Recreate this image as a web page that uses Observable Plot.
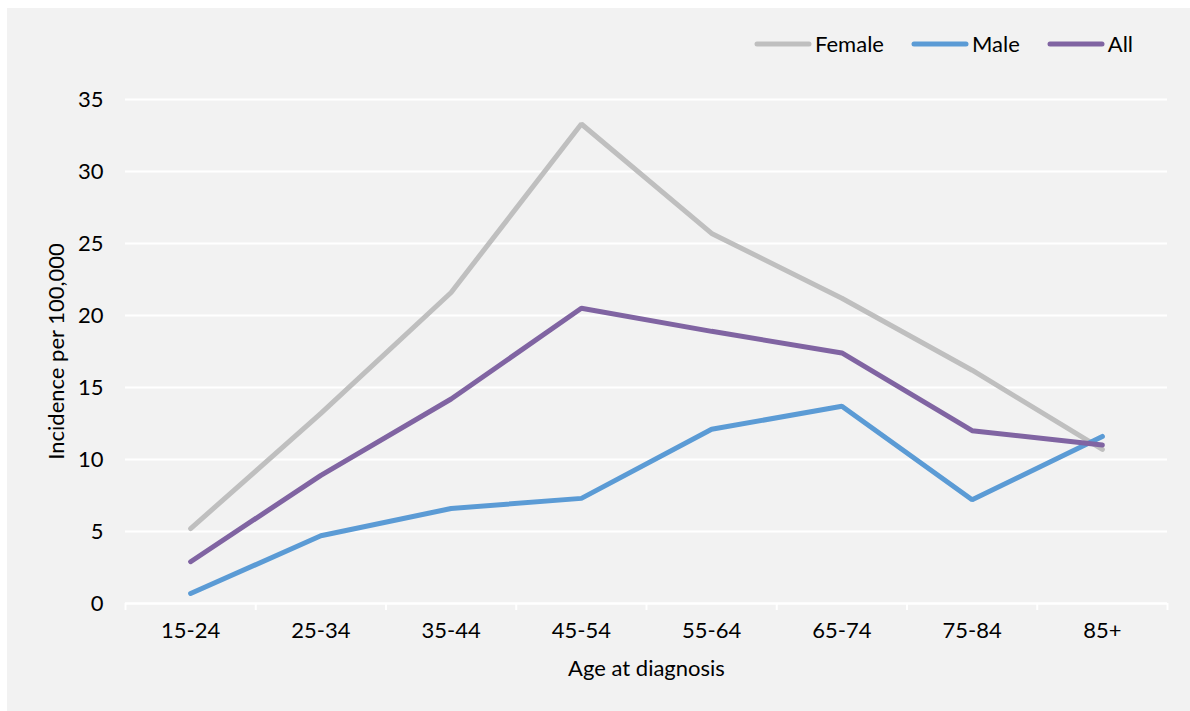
<!DOCTYPE html>
<html>
<head>
<meta charset="utf-8">
<script src="https://cdn.jsdelivr.net/npm/d3@7"></script>
<script src="https://cdn.jsdelivr.net/npm/@observablehq/plot@0.6"></script>
<style>
  html, body { margin: 0; padding: 0; background: #ffffff; }
  #frame { position: absolute; left: 7px; top: 8px; width: 1183px; height: 703px; background: #f2f2f2; font-family: Lato, "Open Sans", sans-serif; }
  #legend { position: absolute; top: 22px; left: 747px; display: flex; align-items: center; font-size: 22px; color: #000; }
  .item { display: flex; align-items: center; margin-right: 27px; }
  .item svg { margin-right: 3px; }
  #chart { position: absolute; left: 0; top: 62px; }
</style>
</head>
<body>
<div id="frame">
  <div id="legend"></div>
  <div id="chart"></div>
</div>
<script>
const categories = ["15-24", "25-34", "35-44", "45-54", "55-64", "65-74", "75-84", "85+"];
const female = [5.2, 13.2, 21.6, 33.3, 25.7, 21.2, 16.2, 10.7];
const male   = [0.7, 4.7, 6.6, 7.3, 12.1, 13.7, 7.2, 11.6];
const all    = [2.9, 8.9, 14.2, 20.5, 18.9, 17.4, 12.0, 11.0];
const seriesNames = ["Female", "Male", "All"];
const seriesColors = ["#bfbfbf", "#5b9bd5", "#8064a2"];
const yTicks = [0, 5, 10, 15, 20, 25, 30, 35];

const seriesValues = [female, male, all];
const data = seriesNames.flatMap((s, k) =>
  categories.map((c, i) => ({series: s, i, value: seriesValues[k][i]})));
const idx = categories.map((_, i) => i);
const edges = d3.range(categories.length + 1).map(i => i - 0.5);

// Legend
const legend = document.getElementById("legend");
seriesNames.forEach((s, k) => {
  const item = document.createElement("div");
  item.className = "item";
  if (k === seriesNames.length - 1) item.style.marginRight = "0";
  item.innerHTML = `<svg width="58" height="10"><line x1="3" y1="5" x2="55" y2="5" stroke="${seriesColors[k]}" stroke-width="5" stroke-linecap="round"/></svg><span>${s}</span>`;
  legend.appendChild(item);
});

const chart = Plot.plot({
  width: 1183,
  height: 641,
  marginLeft: 118,
  marginRight: 23,
  marginTop: 29,
  marginBottom: 108,
  style: {fontFamily: "Lato, 'Open Sans', sans-serif", fontSize: "22px", color: "#000", background: "transparent"},
  x: {domain: [-0.5, categories.length - 0.5]},
  y: {domain: [0, 35]},
  color: {domain: seriesNames, range: seriesColors},
  marks: [
    Plot.gridY(yTicks, {stroke: "#ffffff", strokeOpacity: 1, strokeWidth: 2}),
    Plot.axisY(yTicks, {tickSize: 0, tickPadding: 22, label: "Incidence per 100,000", labelAnchor: "center", labelArrow: "none", labelOffset: 77, fontSize: 22}),
    Plot.axisX(edges, {tickSize: 7, stroke: "#ffffff", strokeWidth: 2, tickFormat: () => "", label: null}),
    Plot.axisX(idx, {tickSize: 0, tickPadding: 19, tickFormat: i => categories[i], label: "Age at diagnosis", labelAnchor: "center", labelArrow: "none", labelOffset: 72, fontSize: 22}),
    Plot.ruleY([0], {stroke: "#ffffff", strokeWidth: 2}),
    Plot.line(data, {x: "i", y: "value", z: "series", stroke: "series", strokeWidth: 5, strokeLinecap: "round", strokeLinejoin: "miter"})
  ]
});
document.getElementById("chart").appendChild(chart);
</script>
</body>
</html>
